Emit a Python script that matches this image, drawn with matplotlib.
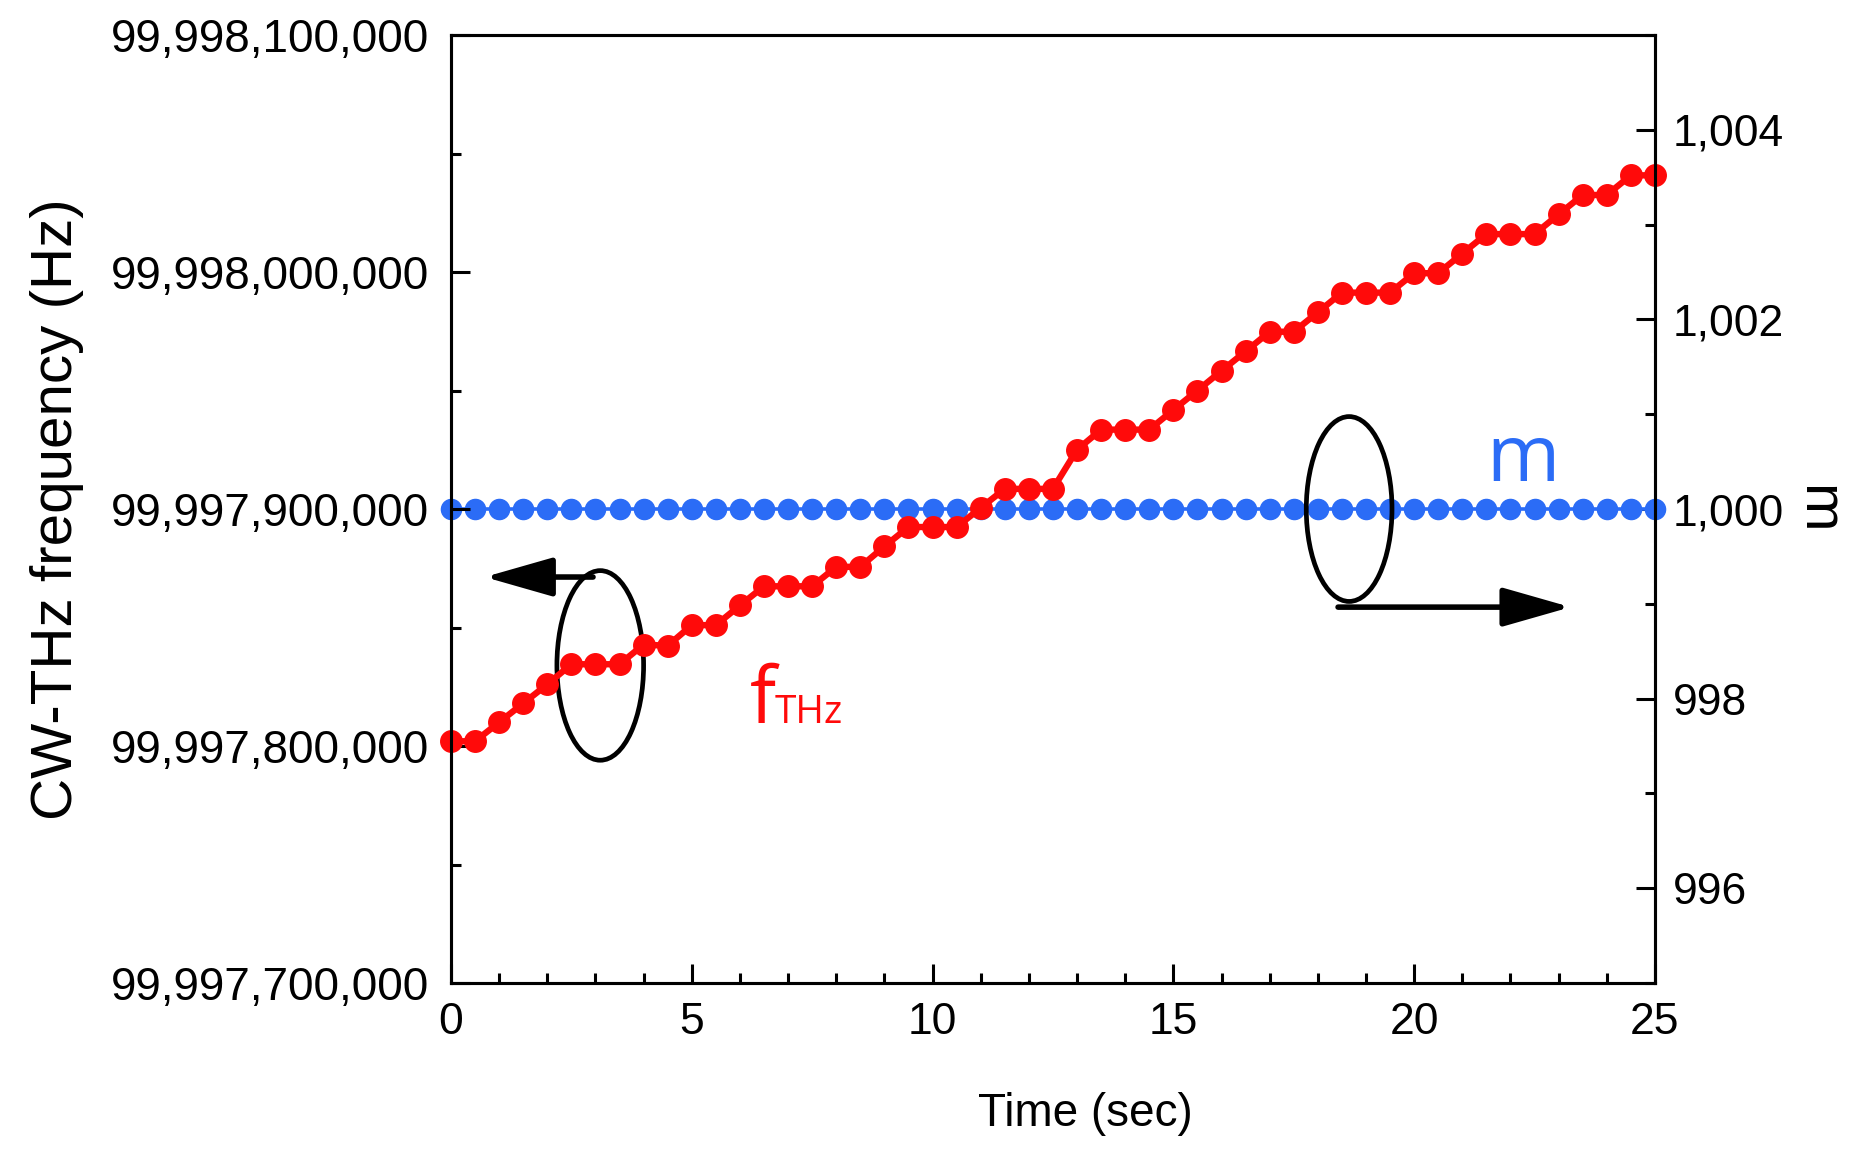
import numpy as np
import matplotlib
matplotlib.use("Agg")
import matplotlib.pyplot as plt
from matplotlib.patches import Ellipse
from matplotlib.ticker import FuncFormatter, MultipleLocator

# datos
time = [0, 0.5, 1, 1.5, 2, 2.5, 3, 3.5, 4, 4.5, 5, 5.5, 6, 6.5, 7, 7.5, 8, 8.5, 9, 9.5,
        10, 10.5, 11, 11.5, 12, 12.5, 13, 13.5, 14, 14.5, 15, 15.5, 16, 16.5, 17, 17.5,
        18, 18.5, 19, 19.5, 20, 20.5, 21, 21.5, 22, 22.5, 23, 23.5, 24, 24.5, 25]

f_thz = [99997802000, 99997802000, 99997810000, 99997818000, 99997826000,
         99997834500, 99997834500, 99997834500, 99997842800, 99997842300,
         99997851000, 99997851000, 99997859300, 99997867400, 99997867400,
         99997867400, 99997875600, 99997875600, 99997884200, 99997892400,
         99997892400, 99997892400, 99997900500, 99997908500, 99997908500,
         99997908500, 99997925000, 99997933500, 99997933500, 99997933500,
         99997941800, 99997950000, 99997958300, 99997966500, 99997974800,
         99997974800, 99997983000, 99997991300, 99997991300, 99997991300,
         99997999500, 99997999500, 99998007800, 99998016000, 99998016000,
         99998016000, 99998024300, 99998032500, 99998032500, 99998040800,
         99998040800]

m_values = [1000] * 51

ROJO = "#ff0a0a"
AZUL = "#2b6cf6"

plt.rcParams["font.family"] = ["Liberation Sans", "DejaVu Sans"]

fig = plt.figure(figsize=(18.52, 11.52), dpi=100)
ax = fig.add_axes([0.2435, 0.1467, 0.6501, 0.8229])
ax2 = ax.twinx()

# eje derecho: m
ax2.plot(time, m_values, "-o", color=AZUL, lw=2.6, markersize=14.5, clip_on=False)
ax2.set_ylim(995, 1005)
ax2.yaxis.set_major_locator(MultipleLocator(2))
ax2.yaxis.set_minor_locator(MultipleLocator(1))
ax2.yaxis.set_major_formatter(FuncFormatter(lambda v, p: f"{v:,.0f}"))
ax2.set_ylabel("m", fontsize=42, rotation=270, va="bottom", labelpad=4)

# eje izquierdo: frecuencia (encima del azul)
ax.set_zorder(ax2.get_zorder() + 1)
ax.patch.set_visible(False)
ax.plot(time, f_thz, "-o", color=ROJO, lw=4.6, markersize=15.5, clip_on=False)
ax.set_xlim(0, 25)
ax.set_ylim(99997700000, 99998100000)
ax.xaxis.set_major_locator(MultipleLocator(5))
ax.xaxis.set_minor_locator(MultipleLocator(1))
ax.yaxis.set_major_locator(MultipleLocator(100000))
ax.yaxis.set_minor_locator(MultipleLocator(50000))
ax.yaxis.set_major_formatter(FuncFormatter(lambda v, p: f"{v:,.0f}"))

ax.set_ylabel("CW-THz frequency (Hz)", fontsize=42)
ax.yaxis.set_label_coords(-0.305, 0.5)
ax.set_xlabel("Time (sec)", fontsize=33)
ax.xaxis.set_label_coords(0.527, -0.115)

for a in (ax, ax2):
    a.tick_params(which="major", direction="in", length=14, width=2.2, labelsize=32)
    a.tick_params(which="minor", direction="in", length=7.5, width=2.2)
    for s in a.spines.values():
        s.set_linewidth(2.2)
ax.tick_params(axis="y", which="both", pad=16, labelsize=33)
ax.tick_params(axis="x", which="both", pad=14)
ax2.tick_params(axis="y", which="both", pad=13)

# elipses y flechas
ax.add_patch(Ellipse((3.1, 99997834000), 1.8, 80000, fill=False, lw=3.4, color="black"))
ax.add_patch(Ellipse((18.65, 99997900000), 1.78, 78000, fill=False, lw=3.4, color="black"))

flecha = dict(arrowstyle="-|>,head_length=4.2,head_width=1.2", mutation_scale=10,
              lw=4, color="black", shrinkA=0, shrinkB=0)
ax.annotate("", xy=(0.7, 99997871300), xytext=(2.95, 99997871300), arrowprops=flecha)
ax.annotate("", xy=(23.25, 99997858600), xytext=(18.42, 99997858600), arrowprops=flecha)

# etiquetas de las series
ax.text(6.2, 99997809600, "f", color=ROJO, fontsize=56, family="Open Sans",
        ha="left", va="baseline")
ax.text(6.72, 99997809600, "THz", color=ROJO, fontsize=28, family="Open Sans",
        ha="left", va="baseline")
ax.text(21.5, 99997912000, "m", color=AZUL, fontsize=57, family="Open Sans",
        ha="left", va="baseline")

fig.savefig("out.png", dpi=100)
